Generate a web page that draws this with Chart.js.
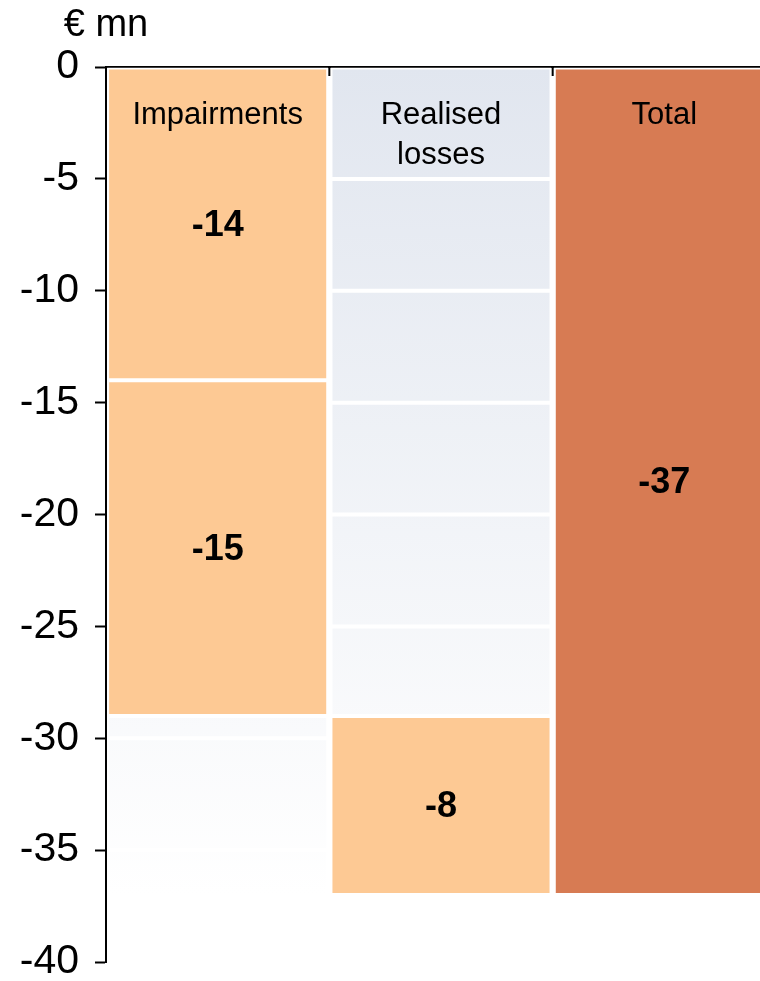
<!DOCTYPE html>
<html>
<head>
<meta charset="utf-8">
<script src="https://cdn.jsdelivr.net/npm/chart.js@4"></script>
<style>
  html, body { margin: 0; padding: 0; background: #fff; overflow: hidden; }
  #wrap { width: 776px; height: 981px; position: relative; }
</style>
</head>
<body>
<div id="wrap"><canvas id="lossChart"></canvas></div>
<script>
// Categories and values (€ mn)
const categories = [['Impairments'], ['Realised', 'losses'], ['Total']];
const impairments = [-14, -15];
const realisedLosses = -8;
const total = -37;
const yTicks = [0, -5, -10, -15, -20, -25, -30, -35, -40];

const peach = '#fdc994';
const rust = '#d77b53';

// cumulative levels for the waterfall
const impEnd1 = impairments[0];
const impEnd2 = impairments[0] + impairments[1];
const realEnd = impEnd2 + realisedLosses;

const font = 'Liberation Sans, Arial, Helvetica, sans-serif';

function bgGradient(context) {
    const chart = context.chart;
    const { ctx, chartArea, scales } = chart;
    if (!chartArea) return '#e8ecf3';
    const y0 = scales.y.getPixelForValue(0);
    const y1 = scales.y.getPixelForValue(total);
    const g = ctx.createLinearGradient(0, y0, 0, y1);
    g.addColorStop(0, '#e1e6ef');
    g.addColorStop(1, '#ffffff');
    return g;
}

// white band lines over the background cells
const bandLines = {
    id: 'bandLines',
    afterDatasetDraw(chart, args) {
        if (args.index !== 0) return;
        const { ctx, chartArea, scales } = chart;
        ctx.save();
        ctx.strokeStyle = '#ffffff';
        ctx.lineWidth = 4;
        yTicks.slice(1, -1).forEach(v => {
            const y = scales.y.getPixelForValue(v);
            ctx.beginPath();
            ctx.moveTo(chartArea.left + 2, y);
            ctx.lineTo(chartArea.right, y);
            ctx.stroke();
        });
        ctx.restore();
    }
};

// category names, value labels, unit and boundary ticks
const annotations = {
    id: 'annotations',
    afterDraw(chart) {
        const { ctx, chartArea, scales } = chart;
        ctx.save();
        ctx.fillStyle = '#000';
        ctx.textAlign = 'center';
        ctx.textBaseline = 'middle';

        ctx.font = '31px ' + font;
        categories.forEach((lines, i) => {
            const x = scales.x.getPixelForValue(i);
            lines.forEach((t, j) => {
                ctx.fillText(t, x, chartArea.top + 48 + j * 40);
            });
        });

        ctx.font = 'bold 36px ' + font;
        chart.data.datasets.forEach((ds, di) => {
            if (!ds.showValue) return;
            const meta = chart.getDatasetMeta(di);
            meta.data.forEach((bar, i) => {
                const v = ds.data[i];
                if (!v) return;
                const label = String(v[1] - v[0]);
                ctx.fillText(label, bar.x, (bar.y + bar.base) / 2 + 2);
            });
        });

        ctx.font = '38px ' + font;
        ctx.fillText('€ mn', chartArea.left, 26);

        // short ticks between categories on the zero line
        ctx.strokeStyle = '#000';
        ctx.lineWidth = 2;
        const w = (chartArea.right - chartArea.left) / categories.length;
        for (let i = 1; i < categories.length; i++) {
            const x = chartArea.left + w * i;
            ctx.beginPath();
            ctx.moveTo(x, chartArea.top);
            ctx.lineTo(x, chartArea.top + 9);
            ctx.stroke();
        }
        ctx.restore();
    }
};

const barStyle = {
    borderColor: '#ffffff',
    borderWidth: 2,
    borderSkipped: false
};

new Chart(document.getElementById('lossChart'), {
    type: 'bar',
    data: {
        labels: categories.map(c => c.join(' ')),
        datasets: [
            {
                label: 'background',
                data: [[impEnd2, total], [0, impEnd2], null],
                backgroundColor: bgGradient,
                order: 1,
                ...barStyle
            },
            {
                label: 'Impairments (1)',
                data: [[0, impEnd1], null, null],
                backgroundColor: peach,
                showValue: true,
                ...barStyle
            },
            {
                label: 'Impairments (2)',
                data: [[impEnd1, impEnd2], null, null],
                backgroundColor: peach,
                showValue: true,
                ...barStyle
            },
            {
                label: 'Realised losses',
                data: [null, [impEnd2, realEnd], null],
                backgroundColor: peach,
                showValue: true,
                ...barStyle
            },
            {
                label: 'Total',
                data: [null, null, [0, total]],
                backgroundColor: rust,
                showValue: true,
                ...barStyle
            }
        ]
    },
    options: {
        responsive: true,
        maintainAspectRatio: false,
        animation: false,
        datasets: {
            bar: { grouped: false, categoryPercentage: 1, barPercentage: 0.99 }
        },
        layout: { padding: { top: 67, bottom: 19, left: 0, right: 0 } },
        plugins: {
            legend: { display: false },
            tooltip: { enabled: false }
        },
        scales: {
            x: {
                position: 'top',
                z: 1,
                afterFit: s => { s.height = 0; },
                grid: { display: false, drawTicks: false },
                border: { display: true, color: '#000', width: 2 },
                ticks: { display: false }
            },
            y: {
                min: -40,
                max: 0,
                afterFit: s => {
                    s.width = 106;
                    s.paddingTop = 0;
                    s.paddingBottom = 0;
                },
                grid: {
                    drawOnChartArea: false,
                    tickLength: 11,
                    tickColor: '#000',
                    tickWidth: 2
                },
                border: { display: true, color: '#000', width: 2 },
                ticks: {
                    stepSize: 5,
                    padding: 16,
                    color: '#000',
                    font: { family: font, size: 41 }
                },
                afterBuildTicks: s => { s.ticks = yTicks.map(v => ({ value: v })); }
            }
        }
    },
    plugins: [bandLines, annotations]
});
</script>
</body>
</html>
